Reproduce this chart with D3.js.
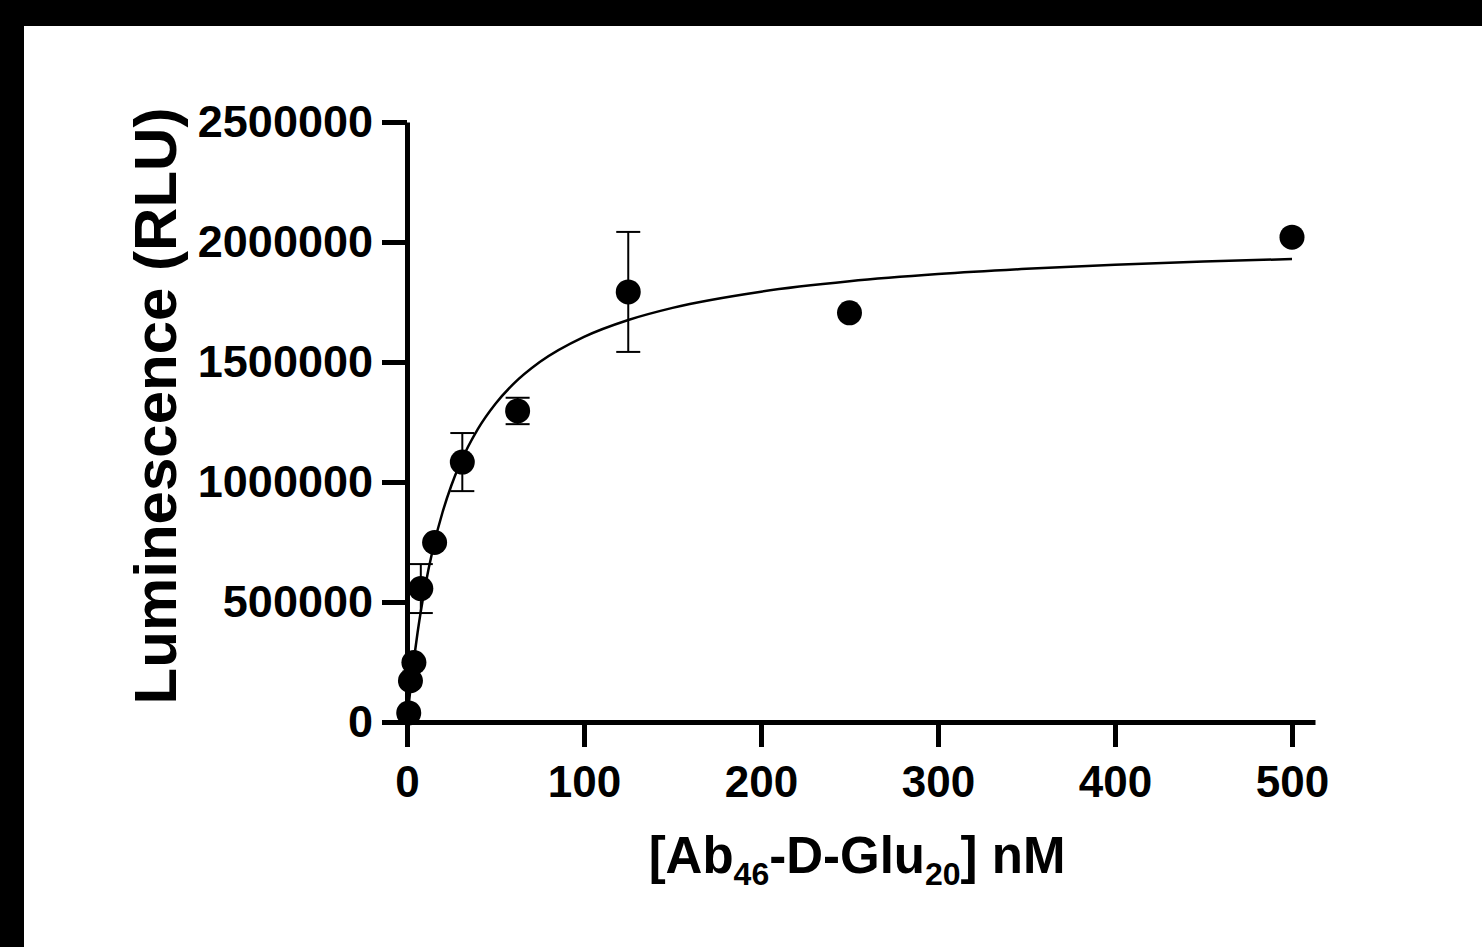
<!DOCTYPE html>
<html>
<head>
<meta charset="utf-8">
<script src="https://cdn.jsdelivr.net/npm/d3@7"></script>
<style>
  html, body { margin: 0; padding: 0; background: #000; }
  svg { display: block; }
  .axis text { font-family: "Liberation Sans", Arial, sans-serif; font-weight: bold; fill: #000; }
</style>
</head>
<body>
<svg id="chart" width="1482" height="947"></svg>
<script>
// concentrations (nM) and mean luminescence (RLU)
var conc = [0.98, 1.95, 3.9, 7.8, 15.6, 31.25, 62.5, 125, 250, 500];
var lum = [38000, 172000, 248000, 556000, 748000, 1083000, 1296000, 1792000, 1705000, 2020000];
// error bar half-widths (SD), 0 where hidden by the marker
var err = [0, 0, 0, 102000, 0, 121000, 55000, 250000, 0, 0];

// fitted curve
var fitX = [0, 1, 2, 4, 6, 8, 10, 15, 20, 25, 30, 40, 50, 60, 75, 100, 125, 150, 200, 250, 300, 350, 400, 450, 500];
var fitY = [0, 73600, 142100, 265600, 373900, 469700, 555100, 732600, 871900, 984300, 1076800, 1220200,
            1326100, 1407600, 1499700, 1604700, 1675100, 1725600, 1793100, 1836200, 1866200, 1888100,
            1904900, 1918300, 1929000];

var xTicks = [0, 100, 200, 300, 400, 500];
var yTicks = [0, 500000, 1000000, 1500000, 2000000, 2500000];

var svg = d3.select('#chart');

// white page area inside the black frame
svg.append('rect')
  .attr('x', 24).attr('y', 26)
  .attr('width', 1482 - 24).attr('height', 947 - 26)
  .attr('fill', '#fff');

var x = d3.scaleLinear().domain([0, 513]).range([407, 1315]);
var y = d3.scaleLinear().domain([0, 2500000]).range([722, 122]);

function styleAxis(g, size) {
  g.selectAll('path, line').attr('stroke', '#000').attr('stroke-width', 5);
  g.selectAll('text').style('font-size', size);
}

// axes
svg.append('g')
  .attr('class', 'axis')
  .attr('transform', 'translate(0,722)')
  .call(d3.axisBottom(x).tickValues(xTicks).tickSize(25).tickSizeOuter(0).tickPadding(19))
  .call(styleAxis, '44px');

svg.append('g')
  .attr('class', 'axis')
  .attr('transform', 'translate(407,0)')
  .call(d3.axisLeft(y).tickValues(yTicks).tickSize(25).tickSizeOuter(0).tickPadding(9)
    .tickFormat(d3.format('d')))
  .call(styleAxis, '45px');

// error bars
var withErr = conc.map(function (c, i) { return { c: c, v: lum[i], e: err[i] }; })
  .filter(function (d) { return d.e > 0; });

var bars = svg.append('g').attr('stroke', '#000').attr('stroke-width', 2);
bars.selectAll('.eb').data(withErr).enter().append('line')
  .attr('x1', function (d) { return x(d.c); })
  .attr('x2', function (d) { return x(d.c); })
  .attr('y1', function (d) { return y(d.v + d.e); })
  .attr('y2', function (d) { return y(d.v - d.e); });
bars.selectAll('.capTop').data(withErr).enter().append('line')
  .attr('x1', function (d) { return x(d.c) - 12; })
  .attr('x2', function (d) { return x(d.c) + 12; })
  .attr('y1', function (d) { return y(d.v + d.e); })
  .attr('y2', function (d) { return y(d.v + d.e); });
bars.selectAll('.capBot').data(withErr).enter().append('line')
  .attr('x1', function (d) { return x(d.c) - 12; })
  .attr('x2', function (d) { return x(d.c) + 12; })
  .attr('y1', function (d) { return y(d.v - d.e); })
  .attr('y2', function (d) { return y(d.v - d.e); });

// fit curve
var line = d3.line()
  .x(function (d) { return x(d[0]); })
  .y(function (d) { return y(d[1]); })
  .curve(d3.curveMonotoneX);
svg.append('path')
  .datum(fitX.map(function (v, i) { return [v, fitY[i]]; }))
  .attr('d', line)
  .attr('fill', 'none')
  .attr('stroke', '#000')
  .attr('stroke-width', 2.5);

// points
svg.append('g').selectAll('circle')
  .data(conc)
  .enter().append('circle')
  .attr('cx', function (c) { return x(c); })
  .attr('cy', function (c, i) { return y(lum[i]); })
  .attr('r', 12.5)
  .attr('fill', '#000');

// axis titles
svg.append('text')
  .attr('transform', 'translate(176,406) rotate(-90)')
  .attr('text-anchor', 'middle')
  .style('font-family', '"Liberation Sans", Arial, sans-serif')
  .style('font-weight', 'bold')
  .style('font-size', '60px')
  .text('Luminescence (RLU)');

var xTitle = svg.append('text')
  .attr('x', 857).attr('y', 873)
  .attr('text-anchor', 'middle')
  .style('font-family', '"Liberation Sans", Arial, sans-serif')
  .style('font-weight', 'bold')
  .style('font-size', '51px');
xTitle.append('tspan').text('[Ab');
xTitle.append('tspan').attr('dy', 12).style('font-size', '32px').text('46');
xTitle.append('tspan').attr('dy', -12).text('-D-Glu');
xTitle.append('tspan').attr('dy', 12).style('font-size', '32px').text('20');
xTitle.append('tspan').attr('dy', -12).text('] nM');
</script>
</body>
</html>
